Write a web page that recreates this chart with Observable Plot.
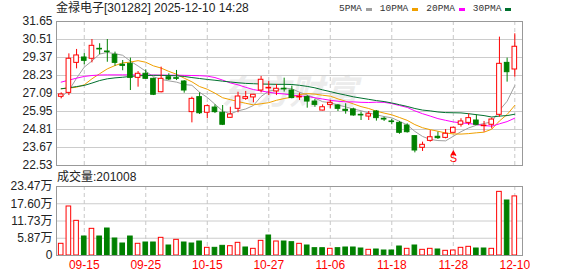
<!DOCTYPE html>
<html><head><meta charset="utf-8">
<script src="https://cdn.jsdelivr.net/npm/d3@7"></script>
<script src="https://cdn.jsdelivr.net/npm/@observablehq/plot@0.6"></script>
<style>
html,body{margin:0;padding:0;background:#fff;}
#wrap{position:relative;width:578px;height:276px;overflow:hidden;font-family:"Liberation Sans",Arial,"Noto Sans CJK SC",sans-serif;}
#main,#vol{position:absolute;left:0;}
#main{top:0;} #vol{top:170px;}
#title{position:absolute;left:56px;top:1px;font-size:12px;line-height:15px;color:#222;white-space:nowrap;}
#volTitle{position:absolute;left:57px;top:170px;font-size:12px;line-height:15px;color:#222;white-space:nowrap;}
#legend{position:absolute;left:339px;top:2px;display:flex;align-items:center;font-family:"Liberation Mono",monospace;font-size:9.5px;line-height:14px;color:#333;white-space:nowrap;}
.sw{display:inline-block;width:6px;height:3px;margin:0 8px 0 4px;}
</style></head>
<body><div id="wrap"><div id="main"></div><div id="vol"></div><div id="title"></div><div id="volTitle"></div><div id="legend"></div></div>
<script>
const stockTitle = "金禄电子[301282] 2025-12-10 14:28";
const volTitle = "成交量:201008";
const opens = [26.88,27.13,29.03,29.37,29.29,29.92,29.75,29.54,28.91,28.97, 28.08,28.34,28.02,27.17,28.12,28.06,27.85,25.91,26.86,25.87, 26.20,25.87,25.55,26.12,26.75,26.84,27.28,27.41,27.22,27.39, 27.28,26.84,26.86,26.58,26.01,26.37,26.33,26.06,26.08,25.74, 25.63,25.95,25.49,25.32,25.23,25.06,24.39,23.65,24.09,24.35, 24.28,24.60,25.11,25.23,25.38,25.02,25.11,25.74,29.03,28.61];
const highs = [27.13,29.60,29.88,29.62,30.51,30.24,30.51,29.71,29.18,29.33, 28.48,28.59,28.06,28.76,28.34,28.55,27.91,26.86,27.13,26.37, 26.37,26.33,26.22,27.17,27.22,27.03,28.17,27.85,27.66,28.06, 27.56,27.11,26.96,26.71,26.37,26.65,26.39,26.44,26.16,25.91, 25.95,26.01,25.59,25.46,25.32,25.17,24.43,24.01,24.74,24.64, 24.81,24.96,25.49,25.80,25.74,25.32,25.53,30.66,29.33,30.87];
const lows = [26.75,26.96,28.65,28.91,29.03,29.54,29.07,28.82,28.53,27.28, 27.49,27.98,26.96,27.13,27.91,27.91,27.11,25.23,25.76,25.49, 25.82,25.06,25.53,25.87,26.65,26.50,27.13,26.96,26.96,27.18, 26.75,26.65,26.16,26.22,25.99,26.12,25.95,25.78,25.65,25.38, 25.38,25.34,25.32,25.11,24.51,24.58,23.33,23.42,24.01,24.18, 24.22,24.60,24.96,25.06,25.06,24.64,24.85,25.59,27.81,28.12];
const closes = [27.03,29.29,29.50,29.16,30.11,29.88,29.71,29.03,28.84,28.08, 28.34,28.02,27.01,28.02,27.98,28.02,27.28,26.75,25.84,26.29, 25.91,25.11,25.76,26.90,26.86,27.01,27.96,27.45,27.39,27.35, 26.80,26.88,26.58,26.37,26.22,26.50,26.12,25.99,25.70,25.70, 25.78,25.53,25.44,25.28,24.60,24.64,23.48,23.84,24.32,24.26, 24.54,24.92,25.32,25.53,25.11,25.06,25.44,28.97,28.44,30.05];
const ma5 = [26.86,27.28,28.06,28.76,29.15,29.59,29.69,29.61,29.51,29.14, 28.83,28.50,28.15,27.98,27.89,27.81,27.66,27.61,27.17,26.84, 26.41,25.98,25.80,25.99,26.11,26.33,26.90,27.24,27.33,27.43, 27.39,27.17,27.00,26.80,26.57,26.51,26.36,26.24,26.11,26.00, 25.86,25.74,25.63,25.55,25.33,25.10,24.69,24.37,24.18,24.11, 24.09,24.38,24.67,24.91,25.08,25.19,25.29,26.02,26.60,27.59];
const ma10 = [27.39,27.43,27.49,27.64,28.02,28.34,28.65,28.86,29.03,29.08, 29.17,29.07,28.84,28.70,28.49,28.31,28.06,27.83,27.53,27.36, 27.11,26.82,26.70,26.58,26.47,26.37,26.44,26.51,26.66,26.77, 26.86,27.02,27.08,27.05,26.98,26.92,26.75,26.60,26.43,26.26, 26.14,25.97,25.85,25.74,25.57,25.39,25.12,24.92,24.80,24.70, 24.59,24.53,24.52,24.55,24.60,24.64,24.83,25.35,25.76,26.34];
const ma20 = [27.81,27.94,28.06,28.17,28.23,28.26,28.27,28.27,28.27,28.27, 28.27,28.26,28.26,28.25,28.25,28.25,28.24,28.23,28.22,28.19, 28.10,27.94,27.76,27.64,27.48,27.34,27.25,27.17,27.10,27.06, 26.99,26.93,26.91,26.82,26.74,26.66,26.60,26.56,26.56,26.53, 26.52,26.54,26.53,26.45,26.33,26.21,25.99,25.81,25.66,25.50, 25.39,25.29,25.23,25.19,25.13,25.06,25.02,25.17,25.31,25.53];
const ma30 = [27.39,27.45,27.53,27.60,27.75,27.91,28.02,28.08,28.12,28.17, 28.21,28.23,28.24,28.24,28.23,28.21,28.17,28.10,28.04,27.98, 27.93,27.87,27.82,27.77,27.73,27.71,27.69,27.68,27.67,27.67, 27.66,27.61,27.54,27.45,27.32,27.21,27.09,26.99,26.88,26.80, 26.72,26.64,26.58,26.49,26.38,26.27,26.14,26.04,25.99,25.92, 25.88,25.87,25.86,25.81,25.75,25.69,25.60,25.66,25.69,25.78];
const volumes = [3.98,16.67,11.79,6.46,9.07,6.46,9.18,5.78,4.08,6.46, 3.98,4.42,4.42,6.01,3.40,5.33,4.42,4.08,4.76,2.61, 2.61,3.29,3.17,4.31,2.72,2.27,4.99,6.80,4.76,4.76, 4.53,3.97,3.40,2.49,2.49,2.27,2.49,2.72,2.72,2.38, 1.93,2.04,1.70,1.70,3.06,2.27,3.40,1.93,2.27,2.04, 1.59,1.70,2.61,2.95,2.38,2.38,2.27,21.65,18.71,20.10];
const volUp = [1,1,1,0,1,0,0,0,0,0, 1,0,0,1,0,1,0,0,0,1, 0,0,1,1,0,1,1,0,1,0, 0,1,0,0,0,1,0,0,0,0, 1,0,0,0,0,1,0,1,1,0, 1,1,1,1,0,0,1,1,0,1];
const tickIdx = [3,11,19,27,35,43,51,59];
const tickLabels = ["09-15","09-25","10-15","10-27","11-06","11-18","11-28","12-10"];
const priceTicks = [22.53,23.67,24.81,25.95,27.09,28.23,29.37,30.51,31.65];
const volTicks = [0,5.87,11.73,17.60,23.47];
const signals = [{i:51, label:"S"}];
const legendNames = ["5PMA","10PMA","20PMA","30PMA"];

const RED = "#ff0000", GREEN = "#008000";
const maColors = ["#a0a0a0","#f0a000","#ff00ff","#00702e"];
const FONT = '"Liberation Sans",Arial,"Noto Sans CJK SC",sans-serif';

const data = closes.map((c,i)=>({i, open:opens[i], high:highs[i], low:lows[i], close:c, up:c>opens[i],
  ma5:ma5[i], ma10:ma10[i], ma20:ma20[i], ma30:ma30[i]}));
const vdata = volumes.map((v,i)=>({i, vol:v, up:volUp[i]===1}));
const xDomain = [-0.61, 60];
const W = 578, ML = 56, MR = 56;
const up = data.filter(d=>d.up), down = data.filter(d=>!d.up);

const main = Plot.plot({
  width:W, height:170, marginTop:21, marginBottom:5, marginLeft:ML, marginRight:MR,
  style:{fontFamily:FONT, fontSize:"12px", background:"transparent", overflow:"visible"},
  x:{domain:xDomain, axis:null},
  y:{domain:[22.53,31.65], label:null},
  marks:[
    Plot.text(["东方财富"], {frameAnchor:"middle", text:d=>d, fontSize:34, fontWeight:"bold", fontStyle:"italic", fill:"#ececec"}),
    Plot.ruleY(priceTicks.slice(1,-1), {stroke:"#cccccc"}),
    Plot.ruleX(tickIdx, {stroke:"#c8c8c8", strokeDasharray:"4,3"}),
    Plot.axisY(priceTicks, {tickSize:0, tickPadding:4, tickFormat:d=>d.toFixed(2), fill:"#222", fontSize:12, label:null}),
    Plot.line(data, {x:"i", y:"ma5", stroke:maColors[0], strokeWidth:1}),
    Plot.line(data, {x:"i", y:"ma10", stroke:maColors[1], strokeWidth:1}),
    Plot.line(data, {x:"i", y:"ma20", stroke:maColors[2], strokeWidth:1}),
    Plot.line(data, {x:"i", y:"ma30", stroke:maColors[3], strokeWidth:1}),
    Plot.ruleX(up, {x:"i", y1:"low", y2:"high", stroke:RED}),
    Plot.ruleX(down, {x:"i", y1:"low", y2:"high", stroke:GREEN}),
    Plot.rect(up, {x1:d=>d.i-0.3, x2:d=>d.i+0.3, y1:"open", y2:"close", fill:"white", stroke:RED}),
    Plot.rect(down, {x1:d=>d.i-0.3, x2:d=>d.i+0.3, y1:"open", y2:"close", fill:GREEN, stroke:GREEN}),
    Plot.dot(signals, {x:"i", frameAnchor:"bottom", dy:-12, symbol:"triangle", r:2.2, fill:RED}),
    Plot.text(signals, {x:"i", text:"label", frameAnchor:"bottom", dy:-4, fill:RED, fontSize:11}),
    Plot.frame({stroke:"#999"})
  ]
});
document.getElementById("main").appendChild(main);

const vol = Plot.plot({
  width:W, height:106, marginTop:16, marginBottom:21, marginLeft:ML, marginRight:MR,
  style:{fontFamily:FONT, fontSize:"12px", background:"transparent", overflow:"visible"},
  x:{domain:xDomain, label:null},
  y:{domain:[0,23.47], label:null},
  marks:[
    Plot.ruleY(volTicks.slice(1,-1), {stroke:"#cccccc"}),
    Plot.ruleX(tickIdx, {stroke:"#c8c8c8", strokeDasharray:"4,3"}),
    Plot.rectY(vdata.filter(d=>d.up), {x1:d=>d.i-0.3, x2:d=>d.i+0.3, y:"vol", fill:"white", stroke:RED}),
    Plot.rectY(vdata.filter(d=>!d.up), {x1:d=>d.i-0.3, x2:d=>d.i+0.3, y:"vol", fill:GREEN, stroke:GREEN}),
    Plot.axisY(volTicks, {tickSize:0, tickPadding:4, tickFormat:d=>d===0?"0":d.toFixed(2)+"万", fill:"#222", fontSize:12, label:null}),
    Plot.axisX(tickIdx, {tickSize:0, tickPadding:5, tickFormat:d=>tickLabels[tickIdx.indexOf(d)], fill:RED, fontSize:12, label:null}),
    Plot.frame({stroke:"#999"})
  ]
});
document.getElementById("vol").appendChild(vol);

document.getElementById("title").textContent = stockTitle;
document.getElementById("volTitle").textContent = volTitle;
const lg = document.getElementById("legend");
legendNames.forEach((n,k)=>{
  const s = document.createElement("span"); s.textContent = n; lg.appendChild(s);
  const w = document.createElement("span"); w.className = "sw"; w.style.background = maColors[k]; lg.appendChild(w);
});
</script></body></html>
